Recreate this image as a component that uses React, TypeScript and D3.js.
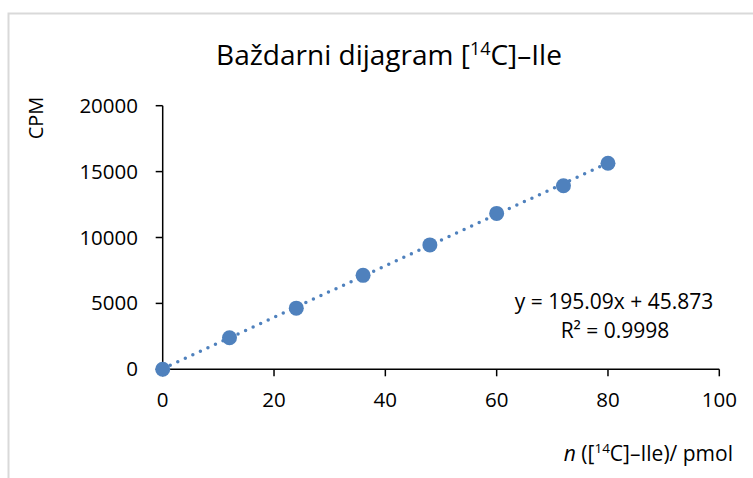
import React from "react";
import * as d3 from "d3";

const xValues = [0, 12, 24, 36, 48, 60, 72, 80];
const yValues = [0, 2390, 4640, 7130, 9440, 11830, 13930, 15630];
const xTicks = [0, 20, 40, 60, 80, 100];
const yTicks = [0, 5000, 10000, 15000, 20000];
const slope = 195.09;
const intercept = 45.873;
const equationText = "y = 195.09x + 45.873";
const r2Text = "0.9998";

const W = 753;
const H = 478;
const FONT = "'Open Sans', 'Noto Sans', sans-serif";
const BLUE = "#4F81BD";

export default function App() {
  const x = d3.scaleLinear().domain([0, 100]).range([162.7, 719.3]);
  const y = d3.scaleLinear().domain([0, 20000]).range([369.3, 105.7]);
  const trend = d3
    .line<number>()
    .x((d) => x(d))
    .y((d) => y(slope * d + intercept));
  const trendX = [0, 80];

  return (
    <svg
      width={W}
      height={H}
      style={{ position: "absolute", left: 0, top: 0, display: "block", background: "#fff" }}
      fontFamily={FONT}
    >
      <rect x={8.5} y={13.5} width={W + 20} height={H + 20} fill="#fff" stroke="#d9d9d9" strokeWidth={2} />
      <text x={389} y={65} textAnchor="middle" fontSize={28} fill="#000">
        Baždarni dijagram [<tspan fontSize={18} dy={-10}>14</tspan>
        <tspan dy={10}>C]–Ile</tspan>
      </text>
      <text
        transform={`translate(43,118) rotate(-90)`}
        textAnchor="middle"
        fontSize={20}
        fill="#000"
      >
        CPM
      </text>
      {/* axes */}
      <line x1={x(0)} x2={x(0)} y1={y(20000)} y2={y(0)} stroke="#000" strokeWidth={1.5} />
      <line x1={x(0)} x2={x(100)} y1={y(0)} y2={y(0)} stroke="#000" strokeWidth={1.5} />
      {yTicks.map((t) => (
        <g key={"y" + t}>
          <line x1={x(0) - 7} x2={x(0)} y1={y(t)} y2={y(t)} stroke="#000" strokeWidth={1.5} />
          <text x={138} y={y(t) + 7} textAnchor="end" fontSize={20.5} fill="#000">
            {t}
          </text>
        </g>
      ))}
      {xTicks.map((t) => (
        <g key={"x" + t}>
          <line x1={x(t)} x2={x(t)} y1={y(0)} y2={y(0) + 7} stroke="#000" strokeWidth={1.5} />
          <text x={x(t)} y={407} textAnchor="middle" fontSize={20.5} fill="#000">
            {t}
          </text>
        </g>
      ))}
      <text x={733} y={461} textAnchor="end" fontSize={21} fill="#000">
        <tspan fontStyle="italic">n</tspan> ([<tspan fontSize={13.5} dy={-8}>14</tspan>
        <tspan dy={8}>C]–Ile)/ pmol</tspan>
      </text>
      {/* trendline */}
      <path
        d={trend(trendX) || ""}
        fill="none"
        stroke={BLUE}
        strokeWidth={3.5}
        strokeLinecap="round"
        strokeDasharray="0 8.3"
      />
      {xValues.map((v, i) => (
        <circle key={i} cx={x(v)} cy={y(yValues[i])} r={7.5} fill={BLUE} />
      ))}
      <text x={614} y={309} textAnchor="middle" fontSize={21} fill="#000">
        {equationText}
      </text>
      <text x={615} y={338} textAnchor="middle" fontSize={21} fill="#000">
        R² = {r2Text}
      </text>
    </svg>
  );
}
